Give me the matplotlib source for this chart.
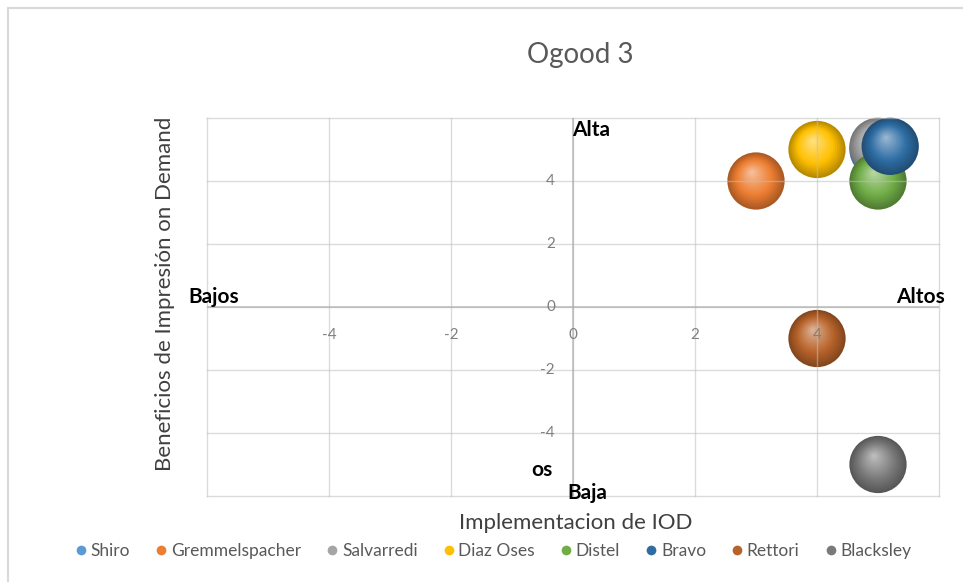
import numpy as np
import matplotlib
matplotlib.use("Agg")
import matplotlib.pyplot as plt
from matplotlib.colors import to_rgb
from matplotlib.transforms import ScaledTranslation
from matplotlib.lines import Line2D
from matplotlib.patches import Rectangle

plt.rcParams['font.family'] = ['Lato', 'DejaVu Sans']

# ---- data ----
companies = ["Shiro", "Gremmelspacher", "Salvarredi", "Diaz Oses",
             "Distel", "Bravo", "Rettori", "Blacksley"]
implementacion = [5.0, 3.0, 5.0, 4.0, 5.0, 5.2, 4.0, 5.0]
beneficios = [5.0, 4.0, 5.1, 5.0, 4.0, 5.1, -1.0, -5.0]
bubble_size = [1, 1, 1, 1, 1, 1, 1, 1]
colors = ["#5B9BD5", "#ED7D31", "#A5A5A5", "#FFC000",
          "#70AD47", "#2E6DA4", "#B8632A", "#7A7A7A"]
tick_values = [-4, -2, 0, 2, 4]

fig = plt.figure(figsize=(9.63, 5.82), dpi=100)
fig.patches.append(Rectangle((8 / 963, -0.1), 1.2, 1 - 8 / 582 + 0.1,
                             transform=fig.transFigure, fill=False,
                             edgecolor="#d9d9d9", linewidth=1.5))

ax = fig.add_axes([207 / 963, 1 - 496 / 582, 732 / 963, 378 / 582])
ax.set_xlim(-6, 6)
ax.set_ylim(-6, 6)
ax.set_facecolor("none")

# grid through the whole plot area, border included
for v in range(-6, 7, 2):
    ax.axvline(v, color="#bfbfbf", lw=1.0, alpha=0.55, zorder=3, clip_on=False)
    ax.axhline(v, color="#bfbfbf", lw=1.0, alpha=0.55, zorder=3, clip_on=False)
ax.axvline(0, color="#b0b0b0", lw=1.2, alpha=0.8, zorder=3)
ax.axhline(0, color="#b0b0b0", lw=1.2, alpha=0.8, zorder=3)

for s in ax.spines.values():
    s.set_visible(False)
ax.set_xticks([])
ax.set_yticks([])

# tick labels sitting on the zero axes
for v in tick_values:
    lab = f"{v}" if v >= 0 else f"-{abs(v)}"
    ax.annotate(lab, (v, 0), xytext=(0, -20), textcoords="offset points",
                ha="center", va="center", fontsize=11, color="#7f7f7f", zorder=5)
    ax.annotate(lab, (0, v), xytext=(-13, 0), textcoords="offset points",
                ha="right", va="center", fontsize=11, color="#7f7f7f", zorder=5)


def sphere(x, y, color, size, z):
    base = np.array(to_rgb(color))
    dark = base * 0.72
    light = base + (1 - base) * 0.55
    r = np.sqrt(size) / 2.0
    n = 16
    for k in range(n):
        f = k / n
        if f < 0.35:
            t = f / 0.35
            c = dark * (1 - t) + base * t
        else:
            t = (f - 0.35) / 0.65
            c = base * (1 - t) + light * t
        dx = -0.15 * r * f / 72.0
        dy = 0.32 * r * f / 72.0
        tr = ax.transData + ScaledTranslation(dx, dy, fig.dpi_scale_trans)
        ax.scatter([x], [y], s=size * (1 - f) ** 2, color=c, edgecolors="none",
                   transform=tr, zorder=z + k * 0.001, clip_on=False)


base_s = 1700
for i, (name, xv, yv, sz, col) in enumerate(zip(companies, implementacion,
                                                  beneficios, bubble_size, colors)):
    sphere(xv, yv, col, base_s * sz, 2 + i * 0.05)

# quadrant captions
cap = dict(fontsize=15, fontweight="bold", color="black", clip_on=False, zorder=6)
ax.text(-0.02, 5.62, "Alta", ha="left", va="center", **cap)
ax.text(-0.1, -5.9, "Baja", ha="left", va="center", **cap)
ax.text(-6.31, 0.32, "Bajos", ha="left", va="center", **cap)
ax.text(5.3, 0.32, "Altos", ha="left", va="center", **cap)
ax.text(-0.69, -5.17, "os", ha="left", va="center", **cap)

fig.text(580 / 963, 1 - 55 / 582, "Ogood 3", ha="center", va="center",
         fontsize=20, color="#595959")
fig.text(576 / 963, 1 - 523 / 582, "Implementacion de IOD", ha="center",
         va="center", fontsize=16, color="#404040")
fig.text(165 / 963, 1 - 294 / 582, "Beneficios de Impresión on Demand",
         ha="center", va="center", rotation=90, fontsize=16, color="#404040")

handles = [Line2D([], [], marker="o", linestyle="none", markersize=7,
                  markerfacecolor=c, markeredgecolor="none") for c in colors]
fig.legend(handles, companies, loc="center", bbox_to_anchor=(492 / 963, 1 - 551 / 582),
           ncol=8, frameon=False, fontsize=12.5, labelcolor="#595959",
           handletextpad=0.05, columnspacing=1.3, handlelength=1.0)

fig.savefig("out.png", dpi=100)
